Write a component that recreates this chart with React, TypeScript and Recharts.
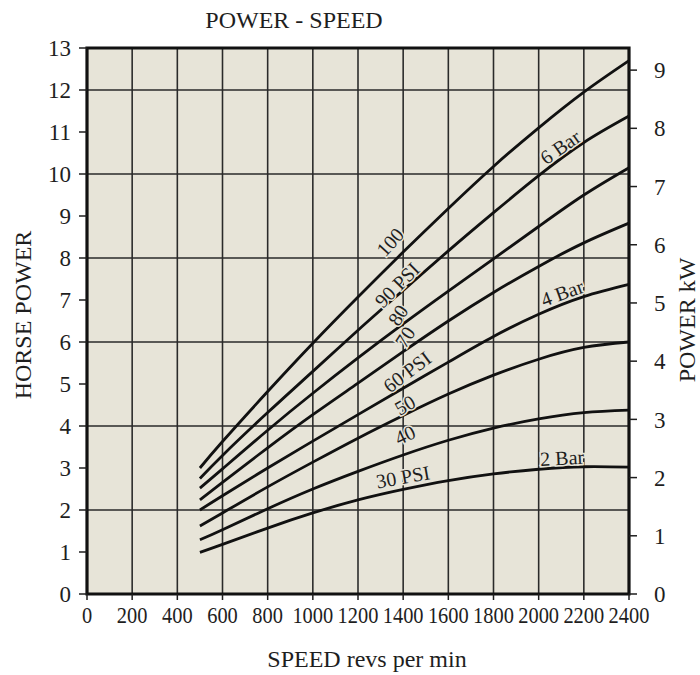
import React from 'react';
import { LineChart, Line, XAxis, YAxis, ReferenceArea, ReferenceDot } from 'recharts';

// ---- data (horse power vs speed at each air pressure) ----
const rpm = [500, 600, 800, 1000, 1200, 1400, 1600, 1800, 2000, 2200, 2400];
const psi100 = [3.0, 3.63, 4.82, 5.97, 7.07, 8.14, 9.18, 10.18, 11.1, 11.95, 12.7];
const psi90 = [2.75, 3.3, 4.32, 5.3, 6.28, 7.23, 8.17, 9.08, 9.96, 10.75, 11.38];
const psi80 = [2.52, 2.98, 3.9, 4.78, 5.62, 6.43, 7.21, 7.98, 8.75, 9.5, 10.15];
const psi70 = [2.24, 2.66, 3.48, 4.27, 5.02, 5.77, 6.5, 7.18, 7.8, 8.36, 8.83];
const psi60 = [2.0, 2.34, 3.0, 3.64, 4.27, 4.9, 5.52, 6.13, 6.66, 7.08, 7.37];
const psi50 = [1.62, 1.93, 2.55, 3.14, 3.71, 4.25, 4.76, 5.21, 5.59, 5.87, 6.0];
const psi40 = [1.29, 1.53, 2.03, 2.5, 2.92, 3.31, 3.66, 3.95, 4.17, 4.32, 4.38];
const psi30 = [0.99, 1.18, 1.57, 1.93, 2.24, 2.49, 2.7, 2.86, 2.97, 3.03, 3.02];

const xTicks = [0, 200, 400, 600, 800, 1000, 1200, 1400, 1600, 1800, 2000, 2200, 2400];
const xGridTicks = [200, 400, 600, 800, 1000, 1200, 1400, 1600, 1800, 2000, 2200];
const hpTicks = [0, 1, 2, 3, 4, 5, 6, 7, 8, 9, 10, 11, 12, 13];
const hpGridTicks = [2, 4, 6, 8, 10, 12];
const kwTicks = [0, 1, 2, 3, 4, 5, 6, 7, 8, 9];
const HP_MAX = 13;
const RPM_MAX = 2400;
const GRID_HALF_HP = 0.019; // half thickness of a horizontal rule, in hp units
const GRID_HALF_RPM = 3.5; // half thickness of a vertical rule, in rpm units

// curve labels: text, anchor speed, anchor hp, rotation
const curveLabelText = ['100', '90 PSI', '80', '70', '60 PSI', '50', '40', '30 PSI', '2 Bar', '4 Bar', '6 Bar'];
const curveLabelRpm = [1342, 1373, 1377, 1408, 1417, 1408, 1408, 1399, 2104, 2104, 2095];
const curveLabelHp = [8.38, 7.36, 6.64, 6.12, 5.29, 4.5, 3.79, 2.79, 3.24, 7.17, 10.64];
const curveLabelAngle = [-48, -45, -57, -57, -37, -30, -25, -10, -3, -20, -35];

const series = [
  { key: 'p100', values: psi100 },
  { key: 'p90', values: psi90 },
  { key: 'p80', values: psi80 },
  { key: 'p70', values: psi70 },
  { key: 'p60', values: psi60 },
  { key: 'p50', values: psi50 },
  { key: 'p40', values: psi40 },
  { key: 'p30', values: psi30 },
];

const data = rpm.map((r, i) => {
  const row: any = { rpm: r };
  series.forEach((s) => (row[s.key] = s.values[i]));
  return row;
});

const FONT = "'Liberation Serif', 'Times New Roman', serif";
const INK = '#1e1e1e';
const BG = '#e7e4d8';
const GRID = '#2a2a2a';

const XTick = (props: any) => {
  const { x, y, payload } = props;
  const s = String(payload.value);
  return (
    <text x={x} y={y} dy={21} textAnchor="middle" fontSize={23} fontFamily={FONT} fill={INK}
      textLength={s.length * 10.2} lengthAdjust="spacingAndGlyphs">
      {s}
    </text>
  );
};

const makeLabelShape = (text: string, angle: number) => (p: any) => {
  const { cx, cy } = p;
  if (cx == null || cy == null) return <g />;
  return (
    <text x={cx} y={cy} transform={`rotate(${angle} ${cx} ${cy})`} textAnchor="middle"
      dominantBaseline="central" fontSize={20} fontFamily={FONT} fill={INK}
      stroke={BG} strokeWidth={3} paintOrder="stroke">
      {text}
    </text>
  );
};

export default function App() {
  return (
    <div style={{ position: 'absolute', left: 0, top: 0, width: 700, height: 675, background: '#fff' }}>
      <LineChart width={700} height={675} data={data} margin={{ top: 48, right: 11, bottom: 41, left: 27 }}>
        {/* plot background */}
        <ReferenceArea yAxisId="hp" x1={0} x2={RPM_MAX} y1={0} y2={HP_MAX} fill={BG} fillOpacity={1} stroke="none"
          ifOverflow="visible" />
        {/* vertical rules every 200 rpm */}
        {xGridTicks.map((v) => (
          <ReferenceArea key={'v' + v} yAxisId="hp" x1={v - GRID_HALF_RPM} x2={v + GRID_HALF_RPM} y1={0} y2={HP_MAX}
            fill={GRID} fillOpacity={1} stroke="none" ifOverflow="visible" />
        ))}
        {/* horizontal rules at even horse-power values */}
        {hpGridTicks.map((v) => (
          <ReferenceArea key={'h' + v} yAxisId="hp" x1={0} x2={RPM_MAX} y1={v - GRID_HALF_HP} y2={v + GRID_HALF_HP}
            fill={GRID} fillOpacity={1} stroke="none" ifOverflow="visible" />
        ))}
        <XAxis dataKey="rpm" type="number" domain={[0, RPM_MAX]} ticks={xTicks} interval={0}
          height={40} tickSize={6} axisLine={false} tickLine={{ stroke: INK, strokeWidth: 1.5 }} tick={<XTick />} />
        <YAxis yAxisId="hp" type="number" domain={[0, HP_MAX]} ticks={hpTicks} interval={0} width={60}
          tickSize={8} tickMargin={8} axisLine={false} tickLine={{ stroke: INK, strokeWidth: 1.5 }}
          tick={{ fontSize: 23, fontFamily: FONT, fill: INK }} />
        <YAxis yAxisId="kw" orientation="right" type="number" domain={[0, 9.38]} allowDataOverflow ticks={kwTicks}
          interval={0} width={60} tickSize={8} tickMargin={17} axisLine={false}
          tickLine={{ stroke: INK, strokeWidth: 1.5 }} tick={{ fontSize: 23, fontFamily: FONT, fill: INK, textAnchor: 'start' }} />
        {series.map((s) => (
          <Line key={s.key} yAxisId="hp" type="natural" dataKey={s.key} stroke="#111" strokeWidth={2.8}
            dot={false} activeDot={false} isAnimationActive={false} />
        ))}
        {curveLabelText.map((t, i) => (
          <ReferenceDot key={t} yAxisId="hp" x={curveLabelRpm[i]} y={curveLabelHp[i]} r={0}
            shape={makeLabelShape(t, curveLabelAngle[i])} />
        ))}
        <ReferenceArea yAxisId="hp" x1={0} x2={RPM_MAX} y1={0} y2={HP_MAX} fill="none" stroke="#111" strokeWidth={3.2}
          ifOverflow="visible" />
      </LineChart>
      <svg width={700} height={675} style={{ position: 'absolute', left: 0, top: 0, pointerEvents: 'none' }}>
        <text x={294} y={28} textAnchor="middle" fontSize={24} fontFamily={FONT} fill={INK}>POWER - SPEED</text>
        <text x={367} y={667} textAnchor="middle" fontSize={24} fontFamily={FONT} fill={INK}>SPEED revs per min</text>
        <text x={31} y={315} transform="rotate(-90 31 315)" textAnchor="middle" fontSize={24} fontFamily={FONT} fill={INK}>HORSE POWER</text>
        <text x={695} y={320} transform="rotate(-90 695 320)" textAnchor="middle" fontSize={24} fontFamily={FONT} fill={INK}>POWER kW</text>
      </svg>
    </div>
  );
}
